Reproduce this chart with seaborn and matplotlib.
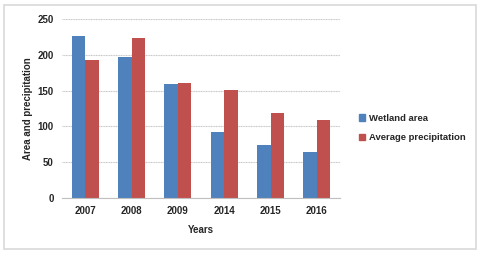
import matplotlib.pyplot as plt
import matplotlib.patches as mpatches
import seaborn as sns
import pandas as pd

years = ['2007', '2008', '2009', '2014', '2015', '2016']
wetland_area = [226, 197, 160, 92, 74, 64]
avg_precip = [193, 223, 161, 151, 119, 109]
series_names = ['Wetland area', 'Average precipitation']

df = pd.DataFrame({
    'Year': years * 2,
    'Value': wetland_area + avg_precip,
    'Series': [series_names[0]] * len(years) + [series_names[1]] * len(years),
})

sns.set_theme(style="white")
plt.rcParams['font.family'] = ['Liberation Sans', 'DejaVu Sans']

fig = plt.figure(figsize=(4.81, 2.54), dpi=100)
ax = fig.add_axes([0.129, 0.220, 0.578, 0.705])

sns.barplot(data=df, x='Year', y='Value', hue='Series', order=years,
            palette=['#4F81BD', '#C0504D'], width=0.58, saturation=1,
            linewidth=0, ax=ax, legend=False)

ax.set_ylim(0, 250)
ax.set_yticks(range(0, 251, 50))
ax.yaxis.grid(True, color='#c8c8c8', linewidth=0.8, linestyle=(0, (1, 0.5)))
ax.set_axisbelow(True)
for s in ['top', 'right', 'left']:
    ax.spines[s].set_visible(False)
ax.spines['bottom'].set_color('#bfbfbf')
ax.spines['bottom'].set_linewidth(0.8)
ax.tick_params(axis='both', length=0, labelsize=7, pad=6)
for lab in ax.get_xticklabels() + ax.get_yticklabels():
    lab.set_fontweight('bold')
ax.set_xlabel('Years', fontsize=7, fontweight='bold', labelpad=6)
ax.set_ylabel('Area and precipitation', fontsize=7, fontweight='bold', labelpad=3)

handles = [mpatches.Patch(color='#4F81BD', label=series_names[0]),
           mpatches.Patch(color='#C0504D', label=series_names[1])]
fig.legend(handles=handles, loc='center left', bbox_to_anchor=(0.728, 0.495),
           frameon=False, handlelength=0.7, handleheight=0.7,
           handletextpad=0.35, labelspacing=1.1, prop={'weight': 'bold', 'size': 6.8})

border = mpatches.Rectangle((0.008, 0.018), 0.982, 0.962, transform=fig.transFigure,
                            fill=False, edgecolor='#d9d9d9', linewidth=1.2)
fig.patches.append(border)

fig.savefig('out.png', dpi=100)
